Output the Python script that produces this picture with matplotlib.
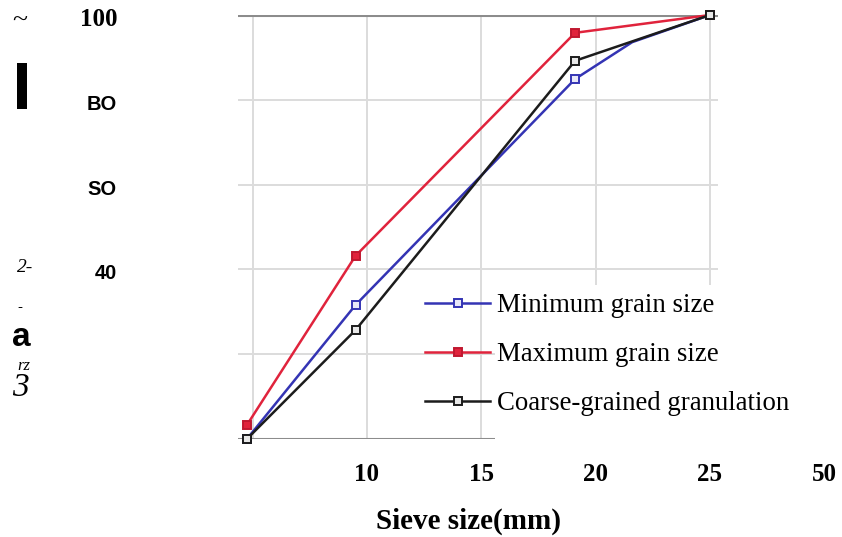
import matplotlib
matplotlib.use("Agg")
import matplotlib.pyplot as plt
from matplotlib.patches import Rectangle

# ---- data ----
sieve_size = [4.75, 9.5, 19.1, 25.0]
min_grain = [0.0, 31.6, 84.9, 100.0]
max_grain = [3.3, 43.2, 95.8, 100.0]
coarse_gran = [0.0, 25.7, 89.2, 100.0]
# blue curve bends onto the black curve before the last sieve
min_bend_x = 21.6
min_bend_y = 93.6

x_ticks = [5, 10, 15, 20, 25]
x_tick_labels = ["", "10", "15", "20", "25"]
extra_x_pos = 30
extra_x_label = "50"
y_tick_vals = [100, 80, 60, 40]
y_tick_labels = ["100", "BO", "SO", "40"]
legend_labels = ["Minimum grain size", "Maximum grain size", "Coarse-grained granulation"]

W, H = 842, 537
fig = plt.figure(figsize=(W / 100, H / 100), dpi=100)

def fx(px):
    return px / W

def fy(py):
    return 1 - py / H

ax = fig.add_axes([fx(238), fy(439), (718 - 238) / W, (439 - 15) / H])
ax.set_xlim(4.36, 25.35)
ax.set_ylim(0, 100)
for s in ax.spines.values():
    s.set_visible(False)

# grid
for xv in x_ticks:
    ax.axvline(xv, color="#dcdcdc", lw=1.4, zorder=1)
for yv in [20, 40, 60, 80]:
    ax.axhline(yv, color="#dcdcdc", lw=1.4, zorder=1)
for yv in [0, 100]:
    ax.axhline(yv, color="#8c8c8c", lw=2.2, zorder=1.5)

# white box behind legend
ax.add_patch(Rectangle(((495 - 238) / 480, -0.03), 0.6, (439 - 285) / 424 + 0.03,
                       transform=ax.transAxes, facecolor="white", edgecolor="none",
                       zorder=2, clip_on=False))

blue = "#3434b4"
red = "#e0233c"
black = "#1c1c1c"

bx = sieve_size[:3] + [min_bend_x] + sieve_size[3:]
by = min_grain[:3] + [min_bend_y] + min_grain[3:]
ax.plot(bx, by, color=blue, lw=1.8, marker="s", ms=5.5, mfc="#e8e8f8", mec=blue, mew=1.4,
        markevery=[0, 1, 2, 4], zorder=3, clip_on=False, label=legend_labels[0])
ax.plot(sieve_size, max_grain, color=red, lw=1.8, marker="s", ms=5.5, mfc=red, mec="#c01830",
        mew=1.4, zorder=3, clip_on=False, label=legend_labels[1])
ax.plot(sieve_size, coarse_gran, color=black, lw=1.8, marker="s", ms=5.5, mfc="#e8e8e8",
        mec=black, mew=1.4, zorder=3.5, clip_on=False, label=legend_labels[2])

# x ticks
ax.set_xticks(x_ticks)
ax.set_xticklabels(x_tick_labels)
ax.tick_params(axis="x", length=0, pad=17)
for lbl in ax.get_xticklabels():
    lbl.set_fontfamily("Liberation Serif")
    lbl.set_fontweight("bold")
    lbl.set_fontsize(18)
ax.annotate(extra_x_label, xy=(extra_x_pos, 0), xycoords=("data", "axes fraction"),
            xytext=(0, -17), textcoords="offset points", ha="center", va="top",
            fontfamily="Liberation Serif", fontweight="bold", fontsize=18,
            annotation_clip=False)

# y ticks as annotations
ax.set_yticks([])
for val, lab in zip(y_tick_vals, y_tick_labels):
    if lab == "100":
        fam, size = "Liberation Serif", 18
    else:
        fam, size = "Liberation Sans", 14.5
    ax.annotate(lab, xy=(0, val), xycoords=("axes fraction", "data"),
                xytext=(-(238 - 117) * 0.72, -4.5 * 0.72), textcoords="offset points",
                ha="right", va="center", fontfamily=fam, fontweight="bold",
                fontsize=size, annotation_clip=False)

# x label
ax.set_xlabel("Sieve size(mm)", fontfamily="Liberation Serif", fontweight="bold", fontsize=21)
ax.xaxis.set_label_coords((468 - 238) / 480, (439 - 521) / 424)
ax.xaxis.label.set_va("center")

# legend
leg = ax.legend(loc="upper left", bbox_to_anchor=((425 - 238) / 480, (439 - 293) / 424),
                frameon=False, borderpad=0, borderaxespad=0, handlelength=2.43,
                handletextpad=0.26, labelspacing=0.9,
                prop={"family": "Liberation Serif", "size": 19.3})
leg.set_zorder(5)

# garbled y-axis label fragments
fig.text(fx(20), fy(21), "~", ha="center", va="center", fontfamily="Liberation Serif", fontsize=20)
fig.add_artist(Rectangle((fx(17), fy(109)), (27 - 17) / W, (109 - 63) / H,
                         transform=fig.transFigure, facecolor="black", edgecolor="none"))
fig.text(fx(25), fy(268), "2-", ha="center", va="center", fontfamily="Liberation Serif",
         fontstyle="italic", fontsize=14)
fig.text(fx(20), fy(307), "-", ha="center", va="center", fontfamily="Liberation Sans", fontsize=11)
fig.text(fx(21), fy(337), "a", ha="center", va="center", fontfamily="Liberation Sans",
         fontweight="bold", fontsize=24)
fig.text(fx(24), fy(366), "rz", ha="center", va="center", fontfamily="Liberation Serif",
         fontstyle="italic", fontsize=12)
fig.text(fx(20), fy(388), "3", ha="center", va="center", fontfamily="Liberation Serif",
         fontstyle="italic", fontsize=24)

fig.savefig("out.png", dpi=100)
